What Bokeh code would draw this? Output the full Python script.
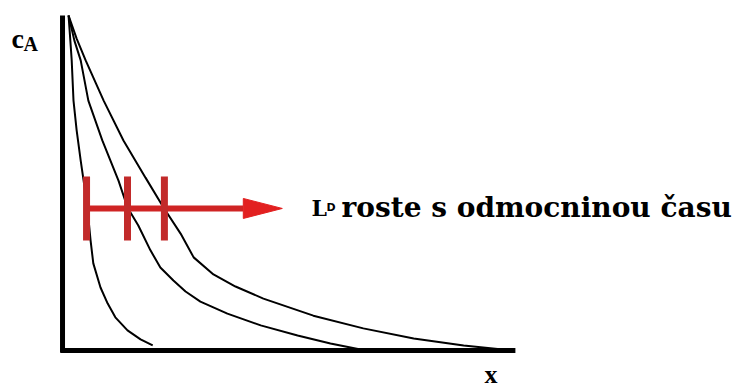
from bokeh.plotting import figure
from bokeh.models import Range1d, Label, ColumnDataSource
from bokeh.embed import file_html
from bokeh.resources import INLINE

# Concentration profiles c_A(x) at three successive times (x in arbitrary units 0..100, c normalised)
x_t1 = [0.9, 1.3, 1.6, 2.0, 2.7, 3.6, 4.4, 5.1, 5.8, 6.4, 8.0, 9.6, 11.3, 14.0, 16.9, 19.6]
c_t1 = [1.00, 0.925, 0.866, 0.746, 0.657, 0.567, 0.493, 0.424, 0.328, 0.260, 0.188, 0.140, 0.099, 0.060, 0.033, 0.015]

x_t2 = [0.9, 2.2, 3.6, 5.3, 8.4, 12.0, 14.0, 16.4, 19.1, 21.3, 24.2, 26.9, 30.2, 36.2, 43.6, 51.8, 59.1, 66.9]
c_t2 = [1.00, 0.925, 0.866, 0.746, 0.627, 0.507, 0.427, 0.373, 0.299, 0.248, 0.209, 0.176, 0.146, 0.110, 0.075, 0.045, 0.021, 0.0]

x_t3 = [0.9, 2.7, 4.7, 8.7, 13.1, 18.0, 22.0, 25.8, 28.7, 33.1, 38.0, 44.2, 55.3, 66.4, 77.6, 88.7, 99.8]
c_t3 = [1.00, 0.931, 0.866, 0.746, 0.627, 0.516, 0.427, 0.349, 0.278, 0.227, 0.191, 0.155, 0.104, 0.066, 0.036, 0.015, 0.0]

# Diffusion lengths L_D marked on the profiles, read at the level c_level
L_D = [4.9, 14.0, 22.2]
c_level = 0.424
arrow_tip = 48.4

PX = 4.5      # screen pixels per x unit
PY = 335.0    # screen pixels per unit of c
X0, Y0 = 64, 350  # screen position of the origin (from the top-left)
W, H = 739, 390

p = figure(width=W, height=H, output_backend="svg", toolbar_location=None,
           x_range=Range1d(-X0 / PX, (W - X0) / PX),
           y_range=Range1d((Y0 - H) / PY, Y0 / PY),
           min_border=0, background_fill_color="white", border_fill_color="white")
p.axis.visible = False
p.grid.visible = False
p.outline_line_color = None

# axes drawn as heavy strokes
p.line([-0.44, -0.44], [-0.006, 1.0], line_color="black", line_width=5)
p.line([-0.9, 100.2], [0.0, 0.0], line_color="black", line_width=5)

# profiles
for xs, cs in ((x_t1, c_t1), (x_t2, c_t2), (x_t3, c_t3)):
    p.line(xs, cs, line_color="black", line_width=2)

# arrow with L_D marks
red = "#cf2424"
head_len = 39 / PX
head_half = 10 / PY
p.line([L_D[0], arrow_tip - head_len], [c_level, c_level], line_color=red, line_width=6)
p.patch([arrow_tip - head_len, arrow_tip, arrow_tip - head_len],
        [c_level + head_half, c_level, c_level - head_half], fill_color="#e22020", line_color="#e22020")
tick_half = 32 / PY
src = ColumnDataSource(dict(x=L_D, y0=[c_level - tick_half] * 3, y1=[c_level + tick_half] * 3))
p.segment(x0="x", y0="y0", x1="x", y1="y1", source=src, line_color="#c22a2a", line_width=7, line_cap="butt")

SHIFT = 9  # labels sit this much lower than their nominal alphabetic baseline

def lab(text, x, baseline_from_top, size, font="Liberation Serif", style="bold"):
    p.add_layout(Label(x=x, y=H - (baseline_from_top - SHIFT), x_units="screen", y_units="screen",
                       text=text, text_font=font, text_font_size=f"{size}px", text_font_style=style,
                       text_color="black", text_baseline="alphabetic"))

lab("c", 11, 47, 28)
lab("A", 23, 52, 20)
lab("x", 484, 383, 26)
lab("L", 311, 216, 22, font="DejaVu Serif")
lab("D", 326, 216, 11, font="DejaVu Sans")
lab("roste s odmocninou času", 341, 216, 28, font="DejaVu Serif")

open("out.html", "w").write(file_html(p, INLINE))
